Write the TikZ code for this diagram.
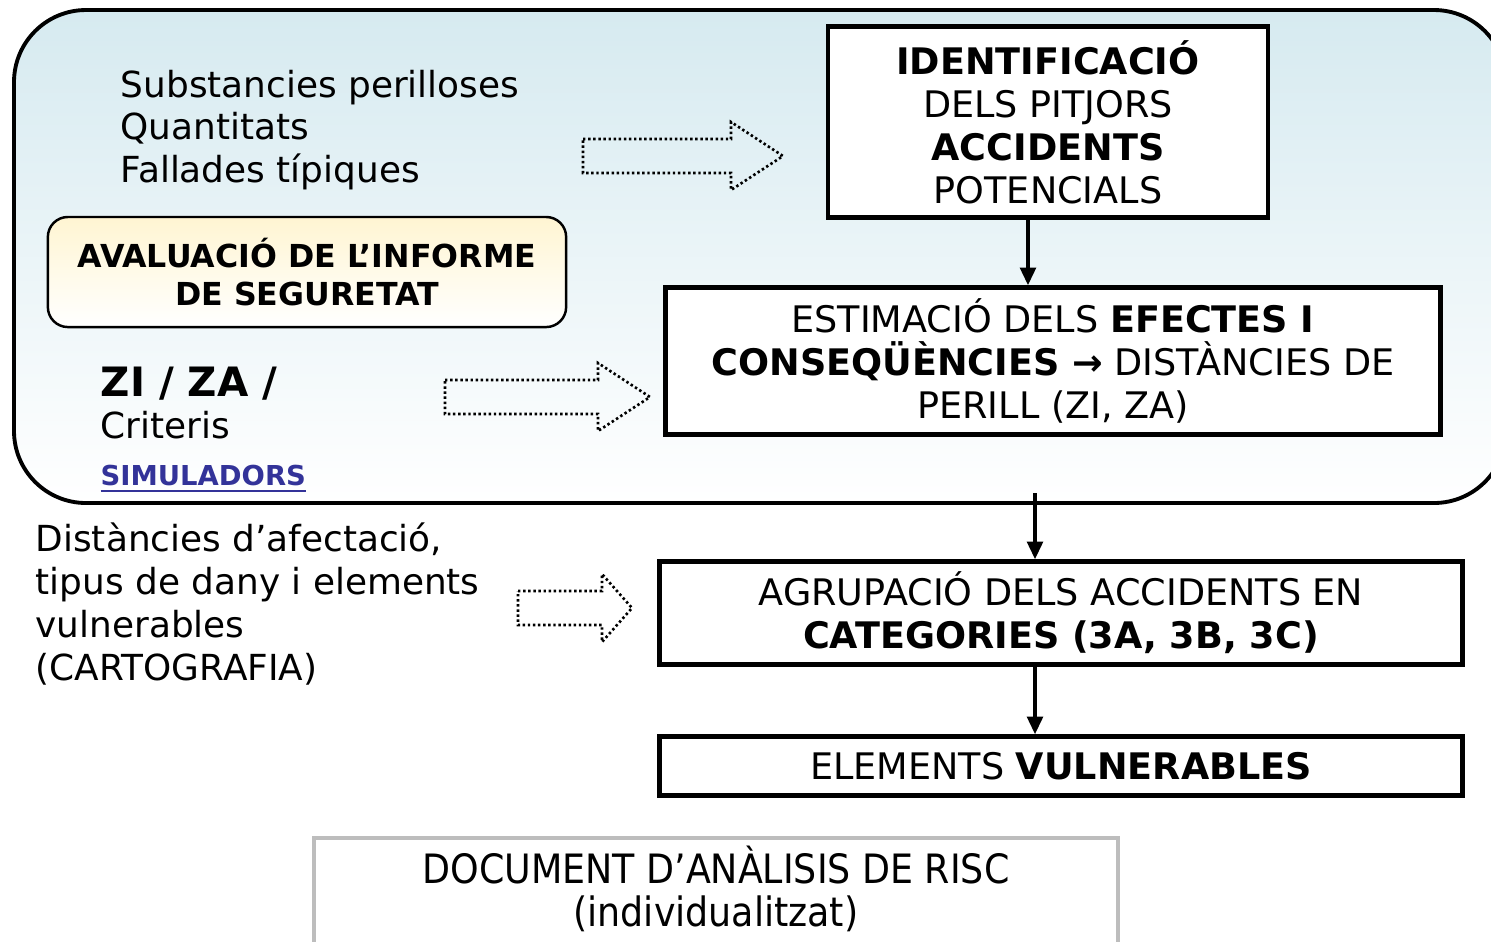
\documentclass[tikz,border=0pt]{standalone}
\usepackage{fontspec}
\setmainfont{DejaVu Sans}
\newfontfamily\narrowfont{DejaVu Sans Condensed}
\usetikzlibrary{arrows.meta}
\definecolor{skyfill}{HTML}{D6EAF0}
\definecolor{creamfill}{HTML}{FFF5D2}
\definecolor{linkblue}{HTML}{333399}
\definecolor{framegray}{HTML}{BDBDBD}
\tikzset{
	stepbox/.style = {draw, fill=white, line width=1.3pt, align=center, inner sep=0pt,
	 font=\fontsize{10.4}{12.2}\selectfont},
	plain/.style = {align=left, inner sep=0pt, font=\fontsize{10.2}{12.2}\selectfont},
	flow/.style = {-{Triangle[length=5pt,width=4.5pt]}, line width=0.9pt},
	dotline/.style = {line width=0.75pt, dash pattern=on 0.7pt off 0.75pt},
	arrlen/.store in=\arrlen, arrhead/.store in=\arrhead,
	arrlen=200, arrhead=52}
\tikzset{
	dotarrow/.pic = {
	 \coordinate (-tail) at (0,0) ;
	 \coordinate (-tip) at (\arrlen,0) ;
	 \draw [dotline] (0,-17) -- (\arrlen-\arrhead,-17) -- (\arrlen-\arrhead,-34)
	  -- (\arrlen,0) -- (\arrlen-\arrhead,34) -- (\arrlen-\arrhead,17) -- (0,17) -- cycle ;
	 }
	}

\begin{document}
\begin{tikzpicture}[x=0.01cm, y=-0.01cm]
\useasboundingbox (0,0) rectangle (1491,941);

% BACKGROUND
\draw [line width=1.1pt, rounded corners=0.72cm, top color=skyfill, bottom color=white]
 (14,10) rectangle (1506,503);

% NODES
% inputs on the left
\node (subst) [plain, anchor=west] at (120,130) {Substancies perilloses\\Quantitats\\Fallades típiques};
\node (report) [draw, line width=0.7pt, rounded corners=0.2cm, top color=creamfill, bottom color=white,
 minimum width=5.18cm, minimum height=1.1cm, align=center,
 font=\fontsize{9}{10.8}\selectfont\bfseries] at (307,272) {AVALUACIÓ DE L’INFORME\\DE SEGURETAT};
\node (zones) [plain, anchor=west] at (100,403) {{\fontsize{11.5}{12.2}\selectfont\bfseries ZI / ZA /}\\Criteris};
\node (sim) [inner sep=0pt, anchor=west, text=linkblue, font=\fontsize{7.8}{9}\selectfont\bfseries]
 at (100,479) {\underline{SIMULADORS}};
\node (dist) [plain, anchor=west] at (35,604) {Distàncies d’afectació,\\tipus de dany i elements\\vulnerables\\(CARTOGRAFIA)};

% steps on the right
\node (ident) [stepbox, minimum width=4.4cm, minimum height=1.91cm] at (1048,122)
 {\textbf{IDENTIFICACIÓ}\\DELS PITJORS\\\textbf{ACCIDENTS}\\POTENCIALS};
\node (estim) [stepbox, minimum width=7.74cm, minimum height=1.47cm] at (1053,361)
 {ESTIMACIÓ DELS \textbf{EFECTES I}\\\textbf{CONSEQÜÈNCIES →} DISTÀNCIES DE\\PERILL (ZI, ZA)};
\node (agrup) [stepbox, minimum width=8.02cm, minimum height=1.03cm] at (1061,613)
 {AGRUPACIÓ DELS ACCIDENTS EN\\\textbf{CATEGORIES (3A, 3B, 3C)}};
\node (elem) [stepbox, minimum width=8.02cm, minimum height=0.59cm] at (1061,766)
 {ELEMENTS \textbf{VULNERABLES}};

% output document
\draw [framegray, line width=1.2pt] (314,838) rectangle (1118,990);
\node (doc) [align=center, inner sep=0pt, font=\narrowfont\fontsize{11.5}{12.2}\selectfont]
 at (716,889) {DOCUMENT D’ANÀLISIS DE RISC\\(individualitzat)};

% dotted arrows
\pic (arrA) at (583,156) {dotarrow};
\pic [arrlen=205] (arrB) at (445,397) {dotarrow};
\pic [arrlen=114, arrhead=30] (arrC) at (518,608) {dotarrow};

%CONNECTIONS
\coordinate (gap) at (1035,493);
\draw [flow] ([xshift=-0.2cm]ident.south) -- ([xshift=-0.2cm]ident.south |- estim.north);
\draw [flow] (gap) -- (gap |- agrup.north);
\draw [flow] (gap |- agrup.south) -- (gap |- elem.north);

\end{tikzpicture}
\end{document}
